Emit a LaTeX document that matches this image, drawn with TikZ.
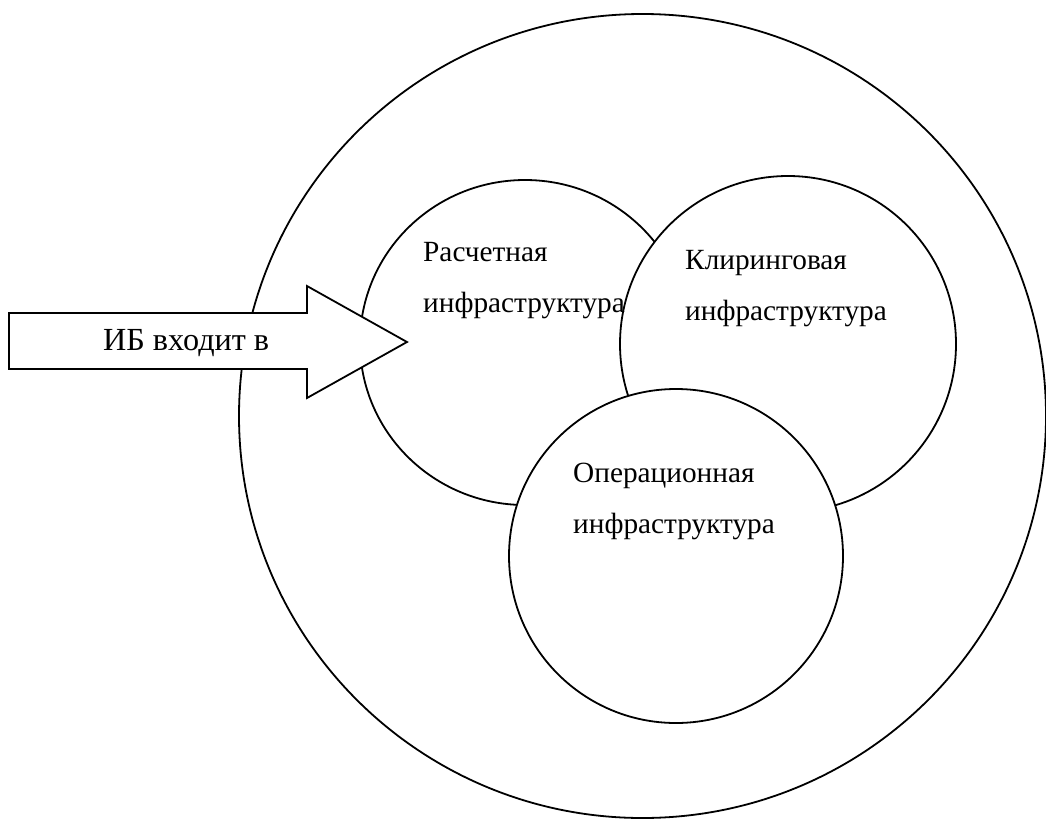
\documentclass[tikz,border=0pt]{standalone}
\usepackage{fontspec}
\setmainfont{Liberation Serif}
\usetikzlibrary{shapes.geometric}
\tikzset{
  ring/.style={draw=black, fill=white, line width=1.8pt, ellipse, inner sep=0pt},
  lbl/.style={anchor=base west, inner sep=0pt, font=\fontsize{29.3}{51}\selectfont, align=left},
  biglbl/.style={anchor=base west, inner sep=0pt, font=\fontsize{32.2}{40}\selectfont},
  arrowshape/.style={draw=black, fill=white, line width=1.8pt, line join=miter}
}
\begin{document}
\begin{tikzpicture}[x=1pt, y=-1pt]
\useasboundingbox (0,0) rectangle (1046,819);
\node[ring, minimum width=807pt, minimum height=804pt] (outer) at (642.5,416) {};
\node[ring, minimum width=330pt, minimum height=325pt] (rasch) at (525,342.5) {};
\node[ring, minimum width=336pt, minimum height=336pt] (klir) at (788,344) {};
\node[ring, minimum width=334pt, minimum height=334pt] (oper) at (676,556) {};
\coordinate (a1) at (9,313);
\coordinate (a2) at (307,313);
\coordinate (a3) at (307,286);
\coordinate (tip) at (407,342);
\coordinate (a5) at (307,398);
\coordinate (a6) at (307,369);
\coordinate (a7) at (9,369);
\draw[arrowshape] (a1) -- (a2) -- (a3) -- (tip) -- (a5) -- (a6) -- (a7) -- cycle;
\node[lbl] (t1) at (423,312) {Расчетная\\инфраструктура};
\node[lbl] (t2) at (685,320) {Клиринговая\\инфраструктура};
\node[lbl] (t3) at (573,533) {Операционная\\инфраструктура};
\node[biglbl] (t4) at (103,350) {ИБ входит в};
\end{tikzpicture}
\end{document}
